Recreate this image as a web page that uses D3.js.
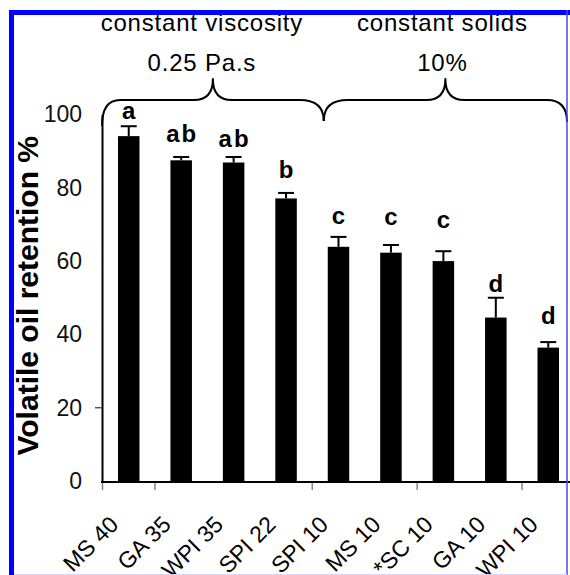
<!DOCTYPE html>
<html>
<head>
<meta charset="utf-8">
<script src="https://cdn.jsdelivr.net/npm/d3@7"></script>
<style>
  html, body { margin: 0; padding: 0; background: #fff; }
  svg { display: block; font-family: "Liberation Sans", Arial, sans-serif; }
</style>
</head>
<body>
<script>
// values
const categories = ["MS 40", "GA 35", "WPI 35", "SPI 22", "SPI 10", "MS 10", "*SC 10", "GA 10", "WPI 10"];
const retention = [94.1, 87.5, 86.9, 77.1, 63.9, 62.3, 60.0, 44.6, 36.4];
const errors = [2.7, 0.9, 1.5, 1.5, 2.7, 2.1, 2.7, 5.4, 1.5];
const letters = ["a", "ab", "ab", "b", "c", "c", "c", "d", "d"];
const letterAt = [98.8, 92.5, 91.1, 82.7, 70.1, 69.8, 69.0, 51.6, 42.8];
const yTicks = [0, 20, 40, 60, 80, 100];
const groupText = [["constant viscosity", "0.25 Pa.s"], ["constant solids", "10%"]];
const groupStart = [0, 4];
const boundaryTicks = [0, 1, 4, 6, 8];

const width = 570, height = 575;

const svg = d3.select("body").append("svg")
  .attr("width", width)
  .attr("height", height);

const x = d3.scaleBand()
  .domain(categories)
  .range([102, 575])
  .paddingInner(0.59)
  .paddingOuter(0.305);

const y = d3.scaleLinear()
  .domain([0, 100])
  .range([481, 114.5]);

// bars
svg.append("g")
  .selectAll("rect")
  .data(categories)
  .join("rect")
  .attr("x", d => x(d))
  .attr("width", x.bandwidth())
  .attr("y", (d, i) => y(retention[i]))
  .attr("height", (d, i) => y(0) - y(retention[i]))
  .attr("fill", "#000");

// error bars (upper only)
const err = svg.append("g").attr("stroke", "#000").attr("stroke-width", 2);
categories.forEach((c, i) => {
  const cx = x(c) + x.bandwidth() / 2;
  const top = y(retention[i] + errors[i]);
  err.append("line").attr("x1", cx).attr("x2", cx).attr("y1", y(retention[i])).attr("y2", top);
  err.append("line").attr("x1", cx - 8).attr("x2", cx + 8).attr("y1", top).attr("y2", top);
});

// significance letters
svg.append("g")
  .selectAll("text")
  .data(categories)
  .join("text")
  .attr("x", d => x(d) + x.bandwidth() / 2 + 1)
  .attr("y", (d, i) => y(letterAt[i]))
  .attr("text-anchor", "middle")
  .style("font-size", "24px")
  .style("font-weight", "bold")
  .style("letter-spacing", "2px")
  .text((d, i) => letters[i]);

// y axis
const yAxis = svg.append("g")
  .attr("transform", "translate(102,0)")
  .call(d3.axisLeft(y).tickValues(yTicks).tickSize(0).tickPadding(20).tickSizeOuter(0));
yAxis.select(".domain").attr("stroke", "#000").attr("stroke-width", 2);
yAxis.selectAll("text")
  .style("font-size", "23px")
  .style("font-family", "'Liberation Sans', Arial, sans-serif")
  .attr("fill", "#111");
yAxis.append("line")
  .attr("x1", -7).attr("x2", 0)
  .attr("y1", y(20)).attr("y2", y(20))
  .attr("stroke", "#555").attr("stroke-width", 1.5);

// x axis
const xAxis = svg.append("g")
  .attr("transform", `translate(0,${y(0)})`)
  .call(d3.axisBottom(x).tickSize(0).tickSizeOuter(0));
xAxis.select(".domain").remove();
xAxis.append("line")
  .attr("x1", 101).attr("x2", 570)
  .attr("y1", 1).attr("y2", 1)
  .attr("stroke", "#000").attr("stroke-width", 2);
xAxis.selectAll(".tick text")
  .attr("y", null).attr("dy", null)
  .attr("text-anchor", "end")
  .attr("fill", "#000")
  .attr("transform", "translate(-9,45) rotate(-45)")
  .style("font-size", "23px")
  .style("font-family", "'Liberation Sans', Arial, sans-serif");

const gap = x.step() * x.paddingInner() / 2;
svg.append("g")
  .selectAll("line")
  .data(boundaryTicks)
  .join("line")
  .attr("x1", i => x(categories[i]) - gap)
  .attr("x2", i => x(categories[i]) - gap)
  .attr("y1", y(0) + 2)
  .attr("y2", y(0) + 9)
  .attr("stroke", "#888")
  .attr("stroke-width", 1.5);

// y title
svg.append("text")
  .attr("transform", `translate(38,${(y(0) + y(100)) / 2 - 2}) rotate(-90)`)
  .attr("text-anchor", "middle")
  .style("font-size", "30px")
  .style("font-weight", "bold")
  .text("Volatile oil retention %");

// braces over the two groups
function bracePath(x1, x2, yl, mid, tipH, leg1, r1, leg2, r2) {
  return `M${x1},${yl + leg1} Q${x1},${yl} ${x1 + r1},${yl} L${mid - 19},${yl} ` +
    `Q${mid},${yl} ${mid},${yl - tipH} Q${mid},${yl} ${mid + 19},${yl} ` +
    `L${x2 - r2},${yl} Q${x2},${yl} ${x2},${yl + leg2}`;
}
const split = x(categories[groupStart[1]]) - 4;
const ends = [[x.range()[0], split], [split, 567]];
const textShift = [-11, -3];
const braceG = svg.append("g");
ends.forEach((e, gi) => {
  const mid = (e[0] + e[1]) / 2;
  braceG.append("path")
    .attr("d", gi === 0
      ? bracePath(e[0], e[1], 100, mid, 21, 26, 18, 21, 24)
      : bracePath(e[0], e[1], 100, mid, 21, 21, 24, 22, 20))
    .attr("fill", "none")
    .attr("stroke", "#000")
    .attr("stroke-width", 2)
    .attr("stroke-linejoin", "round");
  groupText[gi].forEach((t, li) => {
    braceG.append("text")
      .attr("x", mid + textShift[gi])
      .attr("y", 31 + li * 40)
      .attr("text-anchor", "middle")
      .style("font-size", "24px")
      .style("letter-spacing", "0.8px")
      .text(t);
  });
});

// frame
const frame = svg.append("g");
frame.append("rect").attr("x", 9).attr("y", 10).attr("width", 5).attr("height", height - 10).attr("fill", "#0000ff");
frame.append("rect").attr("x", 9).attr("y", 10).attr("width", width - 9).attr("height", 5).attr("fill", "#0000ff");
frame.append("line").attr("x1", 567).attr("x2", 567).attr("y1", 10).attr("y2", height)
  .attr("stroke", "#4a4af0").attr("stroke-width", 1.5);
frame.append("line").attr("x1", 14).attr("x2", 567).attr("y1", 574.5).attr("y2", 574.5)
  .attr("stroke", "#d8d8ff").attr("stroke-width", 1);
</script>
</body>
</html>
